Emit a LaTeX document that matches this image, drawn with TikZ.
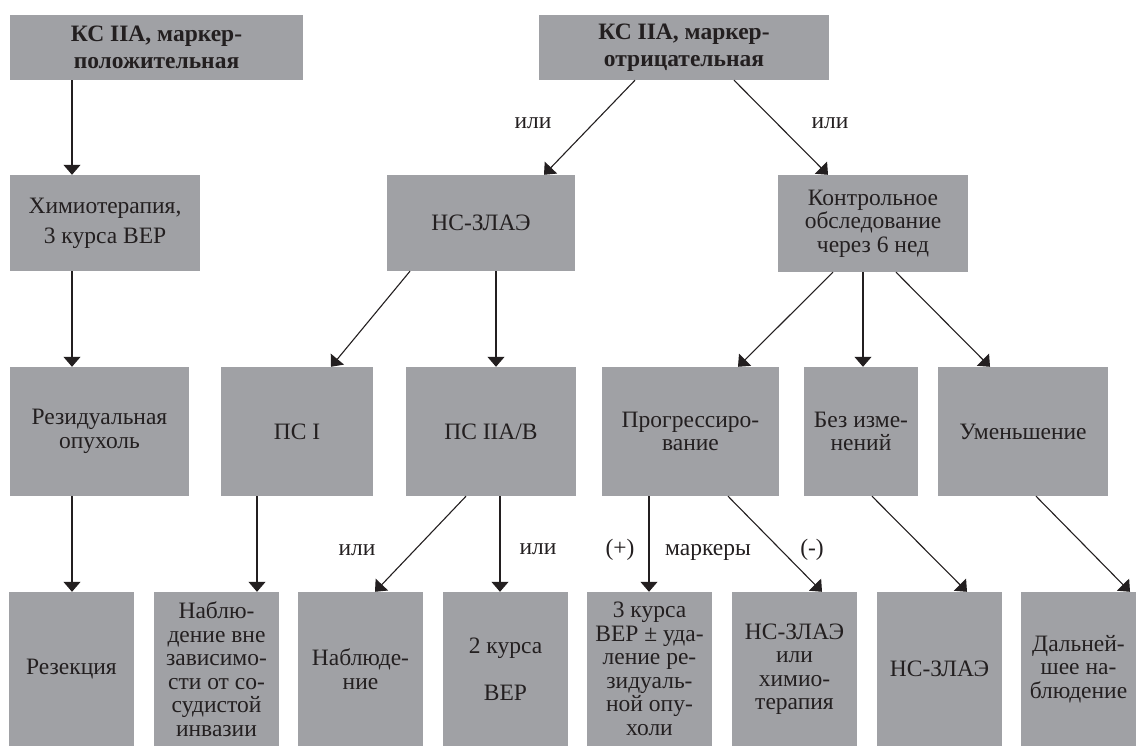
\documentclass[tikz,border=0pt]{standalone}
\usepackage{fontspec}
\setmainfont{Liberation Serif}
\usetikzlibrary{arrows.meta}
\definecolor{boxgray}{RGB}{160,161,165}
\definecolor{ink}{RGB}{35,31,32}
\begin{document}
\begin{tikzpicture}[x=1pt,y=-1pt,
  box/.style={fill=boxgray, draw=none, inner sep=0pt, align=center, text=ink,
    font=\fontsize{23.5}{23.5}\selectfont},
  lbl/.style={text=ink, inner sep=0pt, font=\fontsize{23.5}{23.5}\selectfont},
  arr/.style={draw=ink, line width=1.1pt, -{Triangle[length=10pt,width=17pt]}}]
\useasboundingbox (0,0) rectangle (1136,746);
% row 1
\node[box, minimum width=293pt, minimum height=65pt] (A) at (156.5,47.5)
  {\bfseries КС IIA, маркер-\\[3.5pt]\bfseries положительная};
\node[box, minimum width=290pt, minimum height=65pt] (B) at (684,47.5)
  {\bfseries КС IIA, маркер-\\[3.5pt]\bfseries отрицательная};
% row 2
\node[box, minimum width=190pt, minimum height=96pt] (C) at (105,223)
  {Химиотерапия,\\[6.5pt]3 курса ВЕР};
\node[box, minimum width=188pt, minimum height=96pt] (D) at (481,223) {НС-ЗЛАЭ};
\node[box, minimum width=190pt, minimum height=97pt] (E) at (873,223.5)
  {Контрольное\\обследование\\через 6 нед};
% row 3
\node[box, minimum width=179pt, minimum height=129pt] (F) at (99.5,431.5) {Резидуальная\\опухоль};
\node[box, minimum width=152pt, minimum height=129pt] (G) at (297,431.5) {ПС I};
\node[box, minimum width=170pt, minimum height=129pt] (H) at (491,431.5) {ПС IIA/B};
\node[box, minimum width=177pt, minimum height=129pt] (I) at (690.5,431.5) {Прогрессиро-\\вание};
\node[box, minimum width=114pt, minimum height=129pt] (J) at (861,431.5) {Без изме-\\нений};
\node[box, minimum width=170pt, minimum height=129pt] (K) at (1023,431.5) {Уменьшение};
% row 4
\node[box, minimum width=125pt, minimum height=154pt] (L) at (71.5,669) {Резекция};
\node[box, minimum width=125pt, minimum height=154pt] (M) at (216.5,669)
  {Наблю-\\дение вне\\зависимо-\\сти от со-\\судистой\\инвазии};
\node[box, minimum width=125pt, minimum height=154pt] (N) at (360.5,669) {Наблюде-\\ние};
\node[box, minimum width=125pt, minimum height=154pt] (O) at (505.5,669) {2 курса\\[23.5pt]ВЕР};
\node[box, minimum width=125pt, minimum height=154pt] (P) at (649.5,669)
  {3 курса\\ВЕР ± уда-\\ление ре-\\зидуаль-\\ной опу-\\холи};
\node[box, minimum width=125pt, minimum height=154pt] (Q) at (794.5,669)
  {НС-ЗЛАЭ\\или\\химио-\\терапия};
\node[box, minimum width=125pt, minimum height=154pt] (R) at (939.5,669) {НС-ЗЛАЭ};
\node[box, minimum width=115pt, minimum height=154pt] (S) at (1078.5,669)
  {Дальней-\\шее на-\\блюдение};
% connectors
\draw[arr] ([xshift=-84.5pt]A.south) -- ([xshift=-33pt]C.north);
\draw[arr] ([xshift=-33pt]C.south) -- ([xshift=-27.5pt]F.north);
\draw[arr] ([xshift=-27.5pt]F.south) -- ([xshift=0.5pt]L.north);
\draw[arr] ([xshift=-49pt]B.south) -- ([xshift=63pt]D.north);
\draw[arr] ([xshift=50pt]B.south) -- ([xshift=-45pt]E.north);
\draw[arr] ([xshift=-71pt]D.south) -- ([xshift=34pt]G.north);
\draw[arr] ([xshift=15pt]D.south) -- ([xshift=5pt]H.north);
\draw[arr] ([xshift=-40pt]E.south) -- ([xshift=47.5pt]I.north);
\draw[arr] ([xshift=-10pt]E.south) -- ([xshift=2pt]J.north);
\draw[arr] ([xshift=23pt]E.south) -- ([xshift=-33pt]K.north);
\draw[arr] ([xshift=-40pt]G.south) -- ([xshift=40.5pt]M.north);
\draw[arr] ([xshift=-25pt]H.south) -- ([xshift=14.5pt]N.north);
\draw[arr] ([xshift=9pt]H.south) -- ([xshift=-5.5pt]O.north);
\draw[arr] ([xshift=-41.5pt]I.south) -- ([xshift=-0.5pt]P.north);
\draw[arr] ([xshift=37.5pt]I.south) -- ([xshift=27.5pt]Q.north);
\draw[arr] ([xshift=11pt]J.south) -- ([xshift=27.5pt]R.north);
\draw[arr] ([xshift=13pt]K.south) -- ([xshift=51.5pt]S.north);
% labels
\node[lbl] (l1) at (533,123) {или};
\node[lbl] (l2) at (830,123) {или};
\node[lbl] (l3) at (357,550) {или};
\node[lbl] (l4) at (538,549) {или};
\node[lbl] (l5) at (620,550) {(+)};
\node[lbl] (l6) at (708,552) {маркеры};
\node[lbl] (l7) at (812,550) {(-)};
\end{tikzpicture}
\end{document}
